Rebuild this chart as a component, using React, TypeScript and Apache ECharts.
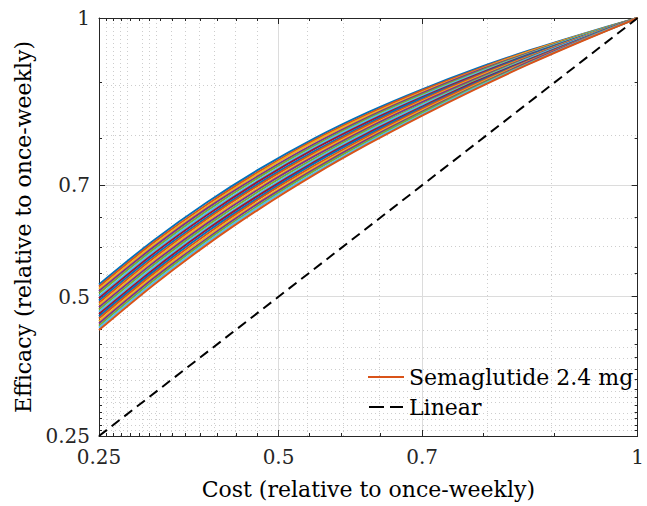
import React, { useEffect, useRef } from "react";
import * as echarts from "echarts";

// Cost samples (relative to once-weekly)
const costs = [0.25, 0.325, 0.4, 0.475, 0.55, 0.625, 0.7, 0.775, 0.85, 0.925, 1];

// Sensitivity curves (efficacy relative to once-weekly), top to bottom of the band
const sensitivityLines: number[][] = [
  [0.522, 0.600, 0.669, 0.730, 0.784, 0.831, 0.872, 0.909, 0.942, 0.972, 1],
  [0.518, 0.596, 0.665, 0.726, 0.781, 0.828, 0.870, 0.907, 0.941, 0.971, 1],
  [0.514, 0.592, 0.661, 0.723, 0.778, 0.825, 0.867, 0.905, 0.940, 0.971, 1],
  [0.510, 0.588, 0.658, 0.719, 0.774, 0.822, 0.865, 0.904, 0.938, 0.970, 1],
  [0.506, 0.584, 0.654, 0.716, 0.771, 0.820, 0.863, 0.902, 0.937, 0.970, 1],
  [0.501, 0.580, 0.650, 0.712, 0.768, 0.817, 0.860, 0.900, 0.936, 0.969, 1],
  [0.497, 0.576, 0.646, 0.709, 0.765, 0.814, 0.858, 0.898, 0.935, 0.968, 1],
  [0.493, 0.572, 0.642, 0.705, 0.761, 0.811, 0.856, 0.896, 0.934, 0.968, 1],
  [0.489, 0.568, 0.639, 0.702, 0.758, 0.808, 0.853, 0.895, 0.932, 0.967, 1],
  [0.485, 0.564, 0.635, 0.698, 0.755, 0.805, 0.851, 0.893, 0.931, 0.967, 1],
  [0.481, 0.560, 0.631, 0.695, 0.752, 0.803, 0.849, 0.891, 0.930, 0.966, 1],
  [0.477, 0.556, 0.627, 0.691, 0.748, 0.800, 0.846, 0.889, 0.929, 0.965, 1],
  [0.473, 0.552, 0.623, 0.687, 0.745, 0.797, 0.844, 0.887, 0.928, 0.965, 1],
  [0.469, 0.548, 0.620, 0.684, 0.742, 0.794, 0.841, 0.886, 0.926, 0.964, 1],
  [0.465, 0.544, 0.616, 0.680, 0.739, 0.791, 0.839, 0.884, 0.925, 0.964, 1],
  [0.461, 0.540, 0.612, 0.677, 0.735, 0.788, 0.837, 0.882, 0.924, 0.963, 1],
  [0.456, 0.536, 0.608, 0.673, 0.732, 0.785, 0.834, 0.880, 0.923, 0.962, 1],
  [0.452, 0.532, 0.604, 0.670, 0.729, 0.783, 0.832, 0.878, 0.922, 0.962, 1],
  [0.448, 0.528, 0.601, 0.666, 0.726, 0.780, 0.830, 0.877, 0.920, 0.961, 1],
  [0.444, 0.524, 0.597, 0.663, 0.722, 0.777, 0.827, 0.875, 0.919, 0.961, 1],
];

// Highlighted curve
const semaglutide = [0.440, 0.520, 0.593, 0.659, 0.719, 0.774, 0.825, 0.873, 0.918, 0.960, 1];

// Linear reference
const linearCost = [0.25, 1];
const linearEff = [0.25, 1];

// Ticks
const majorTicks = [0.25, 0.5, 0.7, 1];
const minorTicks = [
  0.2597, 0.2698, 0.2815, 0.293, 0.3059, 0.3197, 0.3346, 0.3522, 0.3706,
  0.3914, 0.4146, 0.4409, 0.47, 0.5425, 0.5878, 0.6419, 0.7851, 0.8845,
];

const lineColors = ["#0072BD", "#D95319", "#EDB120", "#7E2F8E", "#77AC30", "#4DBEEE", "#A2142F"];

const FONT = "DejaVu Serif";
const AXIS_COLOR = "#262626";

function fmt(v: number): string {
  return String(Math.round(v * 100) / 100);
}

export default function App() {
  const ref = useRef<HTMLDivElement>(null);

  useEffect(() => {
    if (!ref.current) return;
    const chart = echarts.init(ref.current, null, { renderer: "svg" });

    const makeX = (pos: "bottom" | "top", ticks: number[], len: number, showLine: boolean, showLabel: boolean, withName: boolean) => ({
      type: "value",
      min: 0.25,
      max: 1,
      position: pos,
      axisLine: { show: showLine, onZero: false, lineStyle: { color: AXIS_COLOR, width: 1 } },
      axisTick: { show: true, inside: true, length: len, customValues: ticks, lineStyle: { color: AXIS_COLOR, width: 1 } },
      axisLabel: {
        show: showLabel,
        customValues: ticks,
        formatter: (v: number) => fmt(v),
        fontFamily: FONT,
        fontSize: 20,
        color: AXIS_COLOR,
        margin: 11,
        showMinLabel: true,
        showMaxLabel: true,
      },
      splitLine: { show: false },
      ...(withName
        ? {
            name: "Cost (relative to once-weekly)",
            nameLocation: "middle",
            nameGap: 42,
            nameTextStyle: { fontFamily: FONT, fontSize: 22, color: "#000" },
          }
        : {}),
    });

    const makeY = (pos: "left" | "right", ticks: number[], len: number, showLine: boolean, showLabel: boolean, withName: boolean) => ({
      type: "value",
      min: 0.25,
      max: 1,
      position: pos,
      axisLine: { show: showLine, onZero: false, lineStyle: { color: AXIS_COLOR, width: 1 } },
      axisTick: { show: true, inside: true, length: len, customValues: ticks, lineStyle: { color: AXIS_COLOR, width: 1 } },
      axisLabel: {
        show: showLabel,
        customValues: ticks,
        formatter: (v: number) => fmt(v),
        fontFamily: FONT,
        fontSize: 20,
        color: AXIS_COLOR,
        margin: 9,
        showMinLabel: true,
        showMaxLabel: true,
      },
      splitLine: { show: false },
      ...(withName
        ? {
            name: "Efficacy (relative to once-weekly)",
            nameLocation: "middle",
            nameGap: 64,
            nameTextStyle: { fontFamily: FONT, fontSize: 22, color: "#000" },
          }
        : {}),
    });

    const gridLines: any[] = [];
    majorTicks.slice(1, -1).forEach((v) => {
      gridLines.push({ xAxis: v, lineStyle: { color: "#dcdcdc", width: 1, type: "solid" } });
      gridLines.push({ yAxis: v, lineStyle: { color: "#dcdcdc", width: 1, type: "solid" } });
    });
    minorTicks.forEach((v) => {
      gridLines.push({ xAxis: v, lineStyle: { color: "#cdcdcd", width: 1, type: [1, 3] } });
      gridLines.push({ yAxis: v, lineStyle: { color: "#cdcdcd", width: 1, type: [1, 3] } });
    });

    const series: any[] = [
      {
        type: "line",
        name: "grid",
        data: [],
        z: 0,
        silent: true,
        markLine: {
          z: 0,
          silent: true,
          symbol: ["none", "none"],
          label: { show: false },
          animation: false,
          data: gridLines,
        },
      },
    ];

    sensitivityLines.forEach((vals, k) => {
      series.push({
        type: "line",
        name: "s" + k,
        data: costs.map((c, i) => [c, vals[i]]),
        symbol: "none",
        smooth: 0.3,
        z: 3,
        lineStyle: { color: lineColors[k % lineColors.length], width: 2 },
        itemStyle: { color: lineColors[k % lineColors.length] },
      });
    });

    series.push({
      type: "line",
      name: "Semaglutide 2.4 mg",
      data: costs.map((c, i) => [c, semaglutide[i]]),
      symbol: "none",
      smooth: 0.3,
      z: 4,
      lineStyle: { color: "#D95319", width: 2 },
      itemStyle: { color: "#D95319" },
    });

    series.push({
      type: "line",
      name: "Linear",
      data: linearCost.map((c, i) => [c, linearEff[i]]),
      symbol: "none",
      z: 4,
      lineStyle: { color: "#000", width: 2, type: [10, 6] },
      itemStyle: { color: "#000" },
    });

    chart.setOption({
      animation: false,
      backgroundColor: "#fff",
      grid: { left: 99, top: 18, width: 541, height: 418, containLabel: false },
      xAxis: [
        makeX("bottom", majorTicks, 6, true, true, true),
        makeX("bottom", minorTicks, 3, false, false, false),
        makeX("top", majorTicks, 6, true, false, false),
        makeX("top", minorTicks, 3, false, false, false),
      ],
      yAxis: [
        makeY("left", majorTicks, 6, true, true, true),
        makeY("left", minorTicks, 3, false, false, false),
        makeY("right", majorTicks, 6, true, false, false),
        makeY("right", minorTicks, 3, false, false, false),
      ],
      legend: {
        data: [
          { name: "Semaglutide 2.4 mg", icon: "path://M0,0H36V2H0Z" },
          { name: "Linear", icon: "path://M0,0H15V2H0Z M21,0H34V2H21Z" },
        ],
        orient: "vertical",
        left: 363,
        top: 361,
        itemWidth: 36,
        itemHeight: 2,
        itemGap: 8,
        textStyle: { fontFamily: FONT, fontSize: 22, color: "#000" },
        selectedMode: false,
      },
      series,
    });

    return () => chart.dispose();
  }, []);

  return (
    <div
      ref={ref}
      style={{ position: "fixed", left: 0, top: 0, width: 647, height: 506, background: "#fff" }}
    />
  );
}
